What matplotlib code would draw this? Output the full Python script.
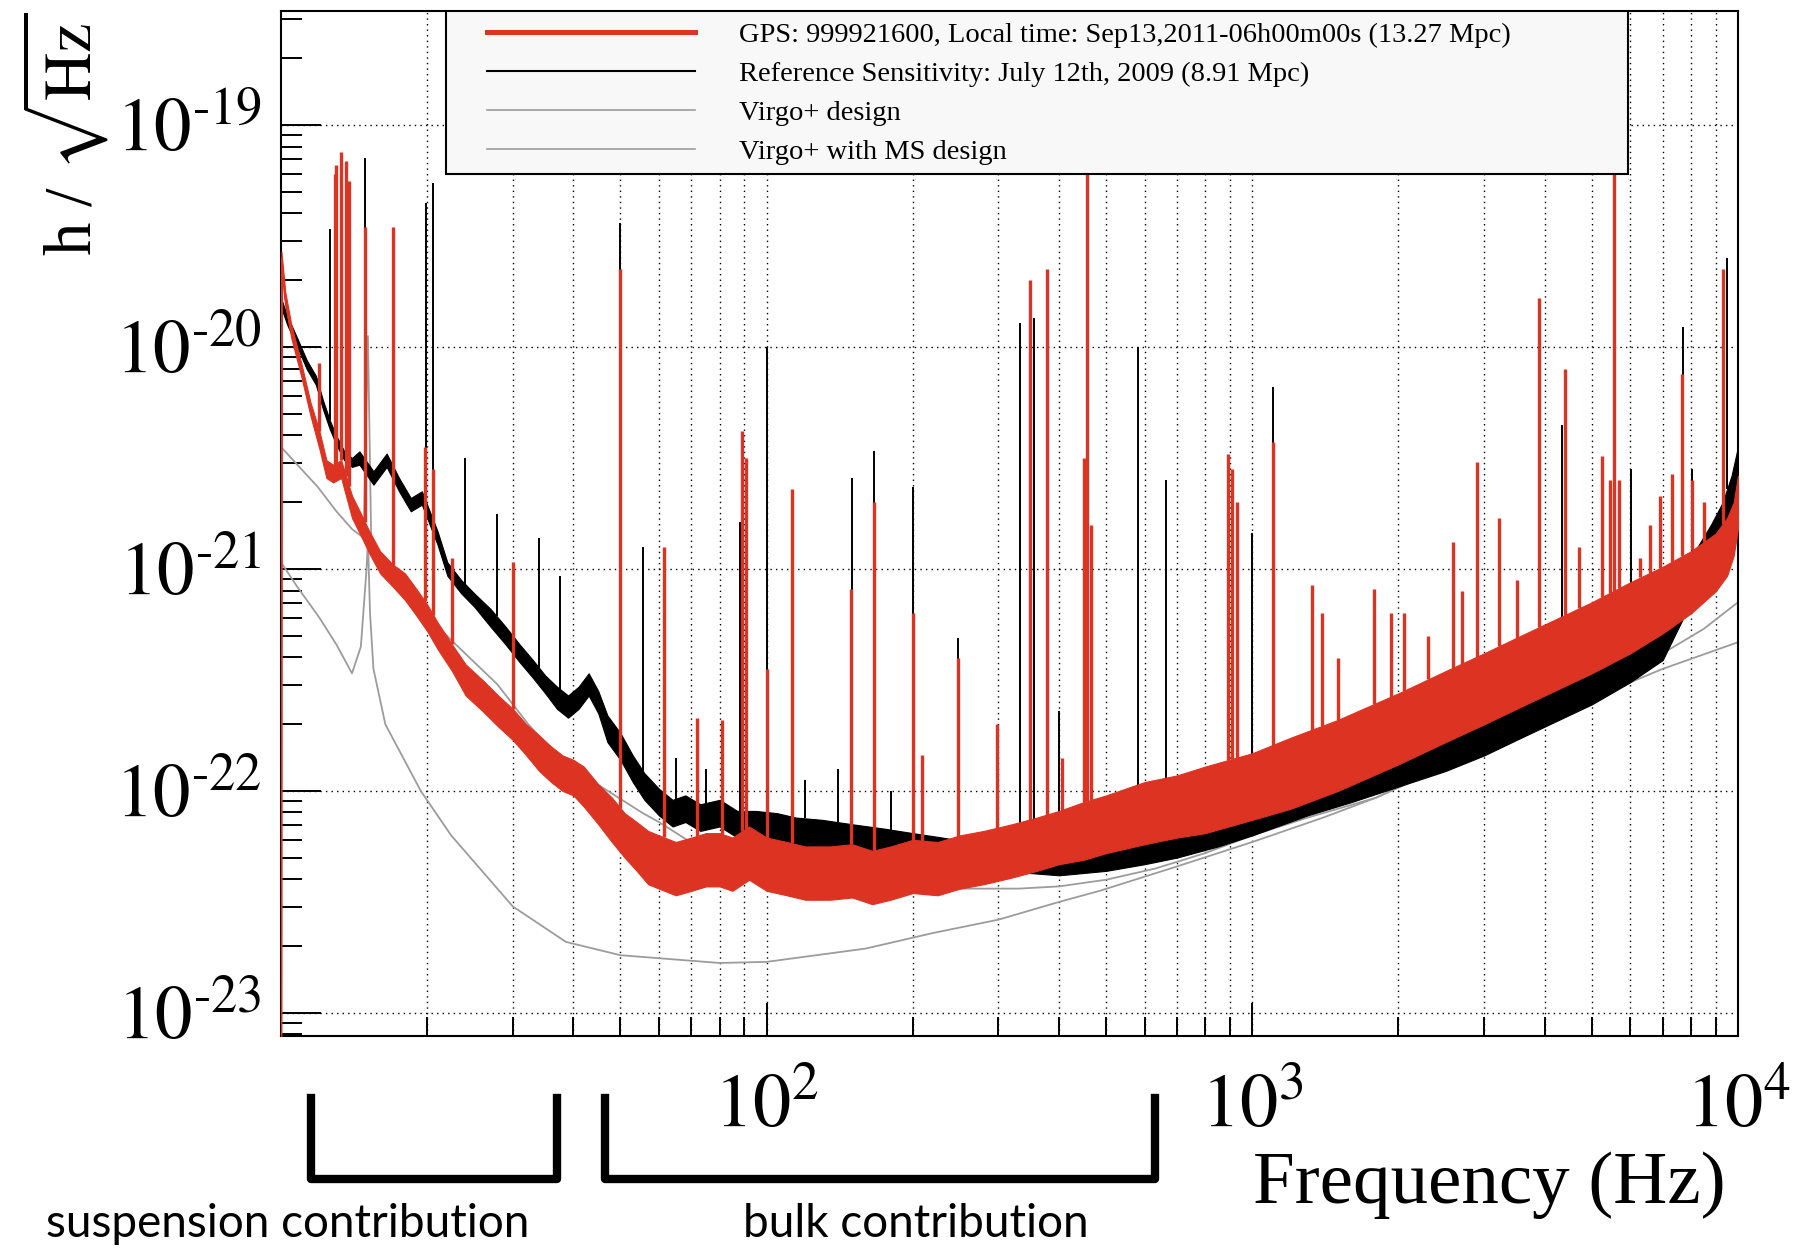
import matplotlib
matplotlib.use('Agg')
import matplotlib.pyplot as plt
import matplotlib.transforms as mtransforms
import numpy as np
from matplotlib.lines import Line2D
from matplotlib.patches import Rectangle
from matplotlib.ticker import FixedLocator, LogLocator, FuncFormatter, NullFormatter

plt.rcParams['mathtext.fontset'] = 'stix'
plt.rcParams['font.family'] = ['Liberation Serif', 'DejaVu Serif']

# values: frequency in Hz, strain given as log10(h)

# Virgo+ design
design_f = [10, 10.8, 11.9, 13.0, 14.0, 14.8, 15.1, 15.35, 16.4, 19.0,
            22.4, 27.9, 32.3, 38.6, 55.6, 60, 68.5, 80, 100, 130,
            160, 250, 330, 400, 500, 630, 800, 1000, 1300, 1800,
            2500, 3500, 5300, 7000, 8500, 10000]
design_lvl = [-20.45, -20.53, -20.63, -20.74, -20.82, -20.86, -19.95, -20.93, -20.99, -21.16,
              -21.32, -21.52, -21.70, -21.88, -22.10, -22.14, -22.22, -22.30, -22.36, -22.40,
              -22.43, -22.44, -22.44, -22.43, -22.40, -22.35, -22.28, -22.20, -22.12, -22.03,
              -21.88, -21.72, -21.53, -21.38, -21.27, -21.15]

# Virgo+ with monolithic suspensions design
ms_f = [10, 10.8, 12.0, 13.0, 14.0, 14.6, 15.0, 15.1, 15.25, 15.5,
        16.4, 19.4, 22.4, 30, 38.6, 50, 80, 100, 117, 160,
        220, 300, 400, 485, 700, 1000, 1400, 1800, 2500, 3100,
        4000, 5300, 7000, 10000]
ms_lvl = [-20.97, -21.08, -21.22, -21.34, -21.47, -21.35, -21.00, -20.87, -21.20, -21.45,
          -21.70, -22.00, -22.20, -22.52, -22.68, -22.74, -22.775, -22.77, -22.75, -22.71,
          -22.64, -22.58, -22.50, -22.45, -22.34, -22.23, -22.12, -22.03, -21.89, -21.79,
          -21.68, -21.56, -21.45, -21.33]

# reference sensitivity, July 2009 (black): floor level and half width of the noise band
ref_f = [10.0, 10.3, 10.8, 11.3, 11.8, 12.2, 12.6, 13.0, 13.5, 14.0,
         14.5, 15.5, 16.5, 17.5, 18.5, 19.5, 21.0, 22.0, 23.5, 25.0,
         27.0, 29.0, 31.0, 33.0, 35.0, 37.0, 39.0, 41.0, 43.0, 45.0,
         47.0, 50.0, 53.0, 56.0, 60.0, 64.0, 68.0, 73.0, 80.0, 87.0,
         95.0, 105, 115, 130, 150, 175, 200, 230, 260, 300,
         350, 400, 500, 600, 700, 850, 1000, 1300, 1600, 2000,
         2500, 3000, 3500, 4000, 5000, 6000, 7000, 8000, 8800, 9300,
         9700, 10000]
ref_lvl = [-19.80, -19.88, -19.98, -20.08, -20.15, -20.26, -20.35, -20.42, -20.49, -20.52,
           -20.50, -20.59, -20.51, -20.62, -20.71, -20.68, -20.86, -21.00, -21.08, -21.14,
           -21.22, -21.30, -21.38, -21.45, -21.52, -21.58, -21.62, -21.58, -21.52, -21.60,
           -21.72, -21.80, -21.90, -21.98, -22.05, -22.10, -22.08, -22.12, -22.10, -22.15,
           -22.16, -22.17, -22.19, -22.20, -22.22, -22.24, -22.26, -22.28, -22.30, -22.29,
           -22.29, -22.30, -22.28, -22.25, -22.22, -22.17, -22.12, -22.03, -21.97, -21.90,
           -21.82, -21.75, -21.68, -21.62, -21.52, -21.42, -21.32, -21.05, -20.90, -20.80,
           -20.68, -20.55]
ref_spread = [0.02, 0.02, 0.02, 0.02, 0.02, 0.02, 0.02, 0.02, 0.02, 0.02,
              0.03, 0.03, 0.03, 0.03, 0.03, 0.03, 0.03, 0.03, 0.03, 0.03,
              0.04, 0.04, 0.04, 0.04, 0.04, 0.05, 0.05, 0.05, 0.05, 0.05,
              0.06, 0.06, 0.06, 0.06, 0.06, 0.06, 0.06, 0.06, 0.06, 0.06,
              0.07, 0.07, 0.07, 0.07, 0.07, 0.07, 0.07, 0.07, 0.07, 0.07,
              0.08, 0.08, 0.08, 0.08, 0.08, 0.08, 0.08, 0.08, 0.08, 0.08,
              0.09, 0.09, 0.09, 0.09, 0.09, 0.09, 0.09, 0.10, 0.10, 0.10,
              0.10, 0.10]
ref_spike_f = [12.6, 14.9, 19.9, 20.6, 23.9, 27.8, 34.0, 37.5, 50.0, 55.6,
               65, 75, 88, 100, 120, 140, 150, 166, 180, 200,
               248, 333, 356, 400, 582, 664, 1000, 1105, 1327, 4340,
               6030, 7700, 8050, 9500]
ref_spike_top = [-19.47, -19.15, -19.35, -19.26, -20.50, -20.75, -20.86, -21.03, -19.44, -20.90,
                 -21.85, -21.90, -20.79, -20.00, -21.95, -21.90, -20.59, -20.47, -22.00, -20.63,
                 -21.31, -19.89, -19.87, -21.64, -20.00, -20.60, -20.84, -20.18, -21.13, -20.35,
                 -20.55, -19.91, -20.55, -19.60]

# GPS 999921600, Sep 13 2011 (red)
run_f = [10.0, 10.02, 10.2, 10.5, 11.0, 11.5, 12.0, 12.4, 12.8, 13.3,
         14.0, 14.6, 15.2, 16.0, 17.0, 18.0, 19.0, 20.0, 21.0, 22.5,
         24.0, 26.0, 28.0, 30.0, 32.0, 34.0, 36.0, 38.0, 40.0, 42.0,
         45.0, 48.0, 51.0, 54.0, 57.0, 60.0, 65.0, 70.0, 75.0, 80.0,
         85.0, 92.0, 100, 110, 120, 135, 150, 165, 180, 200,
         225, 250, 280, 320, 360, 400, 450, 500, 600, 700,
         800, 1000, 1200, 1500, 2000, 2500, 3000, 3500, 4000, 5000,
         6000, 7000, 8000, 9000, 9500, 9800, 10000]
run_lvl = [-24.0, -19.60, -19.78, -19.93, -20.10, -20.28, -20.42, -20.55, -20.57, -20.55,
           -20.72, -20.80, -20.88, -20.97, -21.03, -21.08, -21.15, -21.22, -21.30, -21.40,
           -21.50, -21.57, -21.64, -21.70, -21.77, -21.83, -21.88, -21.92, -21.94, -21.98,
           -22.06, -22.13, -22.20, -22.25, -22.30, -22.32, -22.35, -22.33, -22.31, -22.31,
           -22.33, -22.28, -22.33, -22.35, -22.37, -22.37, -22.36, -22.39, -22.37, -22.34,
           -22.35, -22.32, -22.30, -22.27, -22.24, -22.21, -22.18, -22.15, -22.10, -22.07,
           -22.04, -21.98, -21.92, -21.84, -21.72, -21.62, -21.54, -21.47, -21.41, -21.31,
           -21.22, -21.14, -21.06, -20.97, -20.90, -20.82, -20.70]
run_spread = [0.0, 0.03, 0.03, 0.03, 0.03, 0.03, 0.04, 0.04, 0.04, 0.04,
              0.05, 0.05, 0.05, 0.05, 0.05, 0.06, 0.06, 0.06, 0.06, 0.06,
              0.07, 0.07, 0.07, 0.07, 0.07, 0.08, 0.08, 0.08, 0.08, 0.09,
              0.09, 0.10, 0.10, 0.11, 0.12, 0.12, 0.12, 0.12, 0.12, 0.12,
              0.12, 0.12, 0.12, 0.12, 0.12, 0.12, 0.12, 0.12, 0.12, 0.12,
              0.12, 0.12, 0.12, 0.12, 0.12, 0.12, 0.13, 0.13, 0.14, 0.14,
              0.15, 0.15, 0.16, 0.16, 0.16, 0.16, 0.16, 0.16, 0.16, 0.16,
              0.16, 0.15, 0.14, 0.13, 0.13, 0.12, 0.12]
run_spike_f = [12.0, 12.9, 13.0, 13.3, 13.6, 13.8, 14.9, 17.0, 19.8, 20.6,
               22.5, 30.0, 50.0, 61.5, 72.0, 81.0, 89.0, 90.5, 100.0, 113.0,
               149.0, 166.0, 200.0, 209.0, 248.0, 298.0, 348.0, 377.0, 405.0, 450.0,
               457.0, 465.0, 890.0, 910.0, 930.0, 1105.0, 1327.0, 1390.0, 1500.0, 1780.0,
               1930.0, 2050.0, 2300.0, 2590.0, 2700.0, 2900.0, 3220.0, 3500.0, 3900.0, 4400.0,
               4700.0, 5250.0, 5450.0, 5550.0, 5700.0, 6300.0, 6600.0, 6920.0, 7310.0, 7670.0,
               8050.0, 8500.0, 9300.0]
run_spike_top = [-20.07, -19.22, -19.18, -19.12, -19.16, -19.25, -19.46, -19.46, -20.45, -20.55,
                 -20.95, -20.97, -19.65, -20.90, -21.67, -21.68, -20.38, -20.50, -21.45, -20.64,
                 -21.09, -20.70, -21.20, -21.84, -21.40, -21.70, -19.70, -19.65, -21.85, -20.50,
                 -18.30, -20.80, -20.48, -20.55, -20.70, -20.43, -21.07, -21.20, -21.40, -21.09,
                 -21.20, -21.20, -21.30, -20.88, -21.10, -20.52, -20.77, -21.05, -19.78, -20.10,
                 -20.90, -20.49, -20.60, -18.30, -20.60, -20.95, -20.80, -20.67, -20.57, -20.12,
                 -20.60, -20.70, -19.65]

legend_labels = ['GPS: 999921600, Local time: Sep13,2011-06h00m00s (13.27 Mpc)',
                 'Reference Sensitivity: July 12th, 2009 (8.91 Mpc)',
                 'Virgo+ design',
                 'Virgo+ with MS design']

# frequency ranges marked under the axis
bracket_names = ['suspension contribution', 'bulk contribution']
bracket_lo = [11.5, 46.5]
bracket_hi = [37.0, 630.0]

RED = '#dc3322'
GREY = '#9c9c9c'

fig = plt.figure(figsize=(17.98, 12.5), dpi=100)
ax = fig.add_axes([0.1563, 0.1712, 0.8103, 0.82])
ax.set_xscale('log')
ax.set_yscale('log')


def draw_trace(freq, lvl, spread, spike_f, spike_top, color, lw_spike, z):
    freq = np.array(freq)
    lvl = np.array(lvl)
    spread = np.array(spread)
    ax.fill_between(freq, 10 ** (lvl - spread), 10 ** (lvl + spread),
                    color=color, lw=0.8, zorder=z)
    ax.plot(freq, 10 ** lvl, color=color, lw=1.5, zorder=z)
    # spike feet sit on the top of the noise band
    base = np.interp(np.log10(spike_f), np.log10(freq), lvl + spread)
    ax.vlines(spike_f, 10 ** base, 10 ** np.array(spike_top),
              color=color, lw=lw_spike, zorder=z)


ax.plot(design_f, 10 ** np.array(design_lvl), color=GREY, lw=1.3, zorder=2)
ax.plot(ms_f, 10 ** np.array(ms_lvl), color=GREY, lw=1.3, zorder=2)
draw_trace(ref_f, ref_lvl, ref_spread, ref_spike_f, ref_spike_top, 'black', 1.4, 3)
draw_trace(run_f, run_lvl, run_spread, run_spike_f, run_spike_top, RED, 2.4, 4)

ax.set_xlim(10, 1e4)
ax.set_ylim(10 ** -23.104, 10 ** -18.486)


def decade_label(v, pos):
    e = int(round(np.log10(v)))
    if e < 0:
        return r'$10^{\text{-}%d}$' % (-e)
    return r'$10^{%d}$' % e


# axis ticks in the ROOT style
ax.xaxis.set_major_locator(FixedLocator([1e2, 1e3, 1e4]))
ax.xaxis.set_minor_locator(LogLocator(base=10, subs=np.arange(2, 10), numticks=20))
ax.yaxis.set_major_locator(FixedLocator([1e-23, 1e-22, 1e-21, 1e-20, 1e-19]))
ax.yaxis.set_minor_locator(LogLocator(base=10, subs=np.arange(2, 10), numticks=50))
ax.xaxis.set_major_formatter(FuncFormatter(decade_label))
ax.yaxis.set_major_formatter(FuncFormatter(decade_label))
ax.xaxis.set_minor_formatter(NullFormatter())
ax.yaxis.set_minor_formatter(NullFormatter())

ax.tick_params(axis='x', which='major', direction='in', length=24, width=1.4,
               labelsize=55, pad=26, top=False)
ax.tick_params(axis='x', which='minor', direction='in', length=13.7, width=1.4, top=False)
ax.tick_params(axis='y', which='major', direction='in', length=29, width=1.4,
               labelsize=54, pad=14, right=False)
ax.tick_params(axis='y', which='minor', direction='in', length=15, width=1.4, right=False)
for s in ax.spines.values():
    s.set_linewidth(1.5)

ax.set_axisbelow(True)
ax.xaxis.grid(True, which='both', color='black', linestyle=(0, (1, 3)), lw=1.0)
ax.yaxis.grid(True, which='major', color='black', linestyle=(0, (1, 3)), lw=1.0)

# legend box
ax.add_patch(Rectangle((0.1132, 0.841), 0.8113, 0.159, transform=ax.transAxes,
                       facecolor='#f8f8f8', edgecolor='black', lw=1.5, zorder=6))
handles = [Line2D([], [], color=RED, lw=3.6),
           Line2D([], [], color='black', lw=1.5),
           Line2D([], [], color=GREY, lw=1.2),
           Line2D([], [], color=GREY, lw=1.2)]
leg = ax.legend(handles, legend_labels, loc='upper left', bbox_to_anchor=(0.1414, 0.9893),
                frameon=False, fontsize=20.5, handlelength=7.3, handletextpad=1.54,
                labelspacing=0.46, borderpad=0, borderaxespad=0)
leg.set_zorder(7)

fig.text(0.036, 0.9896, r'h / $\sqrt{\mathrm{Hz}}$', rotation=90, ha='center', va='top',
         fontsize=48)
fig.text(0.960, 0.052, 'Frequency (Hz)', ha='right', va='center', fontsize=54)

# brackets below the frequency axis
trans = mtransforms.blended_transform_factory(ax.transData, ax.transAxes)
for f0, f1 in zip(bracket_lo, bracket_hi):
    ax.plot([f0, f0, f1, f1], [-0.0605, -0.1395, -0.1395, -0.0605], transform=trans,
            color='black', lw=6, solid_joinstyle='round', clip_on=False)
fig.text(0.160, 0.0104, bracket_names[0], ha='center', va='baseline',
         family='Lato', fontsize=33)
fig.text(0.5095, 0.0104, bracket_names[1], ha='center', va='baseline',
         family='Lato', fontsize=33)

fig.savefig('out.png', dpi=100)
